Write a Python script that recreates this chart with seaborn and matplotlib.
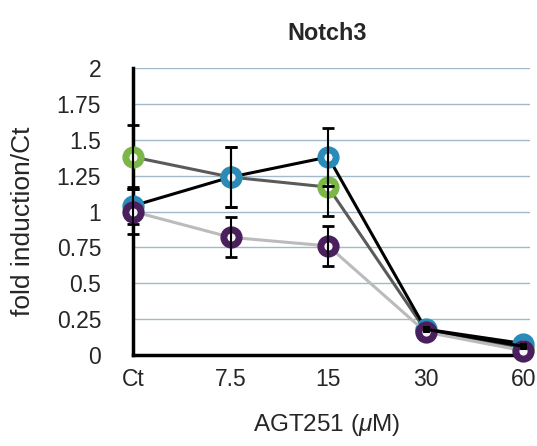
import matplotlib
matplotlib.use("Agg")
import matplotlib.pyplot as plt
import seaborn as sns
import numpy as np
import pandas as pd

categories = ["Ct", "7.5", "15", "30", "60"]
green_vals = [1.38, 1.24, 1.17, 0.17, 0.05]
green_err = [0.22, 0.21, 0.20, 0.0, 0.0]
blue_vals = [1.04, 1.24, 1.38, 0.18, 0.08]
blue_err = [0.13, 0.21, 0.20, 0.0, 0.0]
purple_vals = [1.00, 0.82, 0.76, 0.16, 0.03]
purple_err = [0.16, 0.14, 0.14, 0.0, 0.0]
black_vals = [np.nan, np.nan, np.nan, 0.18, 0.06]
yticks = [0, 0.25, 0.5, 0.75, 1, 1.25, 1.5, 1.75, 2]
ytick_labels = ["0", "0.25", "0.5", "0.75", "1", "1.25", "1.5", "1.75", "2"]

sns.set_style("white")
plt.rcParams['font.family'] = ['Liberation Sans', 'DejaVu Sans']
plt.rcParams['mathtext.fontset'] = 'custom'
plt.rcParams['mathtext.it'] = 'Liberation Sans:italic'
plt.rcParams['mathtext.rm'] = 'Liberation Sans'

fig = plt.figure(figsize=(5.37, 4.46), dpi=100)
ax = fig.add_axes([0.248, 0.204, 0.739, 0.6435])

x = np.arange(len(categories))
series = [
    ("green", green_vals, green_err, "#5a5a5a", "#7ab648"),
    ("blue", blue_vals, blue_err, "#000000", "#2a8ab8"),
    ("purple", purple_vals, purple_err, "#bbbbbb", "#4a1f5e"),
]

for yv in yticks[1:]:
    ax.axhline(yv, color="#a3b8c8", lw=1.0, zorder=0)

z = 3
for name, vals, err, lc, mc in series:
    df = pd.DataFrame({"x": x, "y": vals})
    sns.lineplot(data=df, x="x", y="y", ax=ax, color=lc, lw=2.2, zorder=z,
                 marker="o", markersize=11, markerfacecolor="#f4f4f4",
                 markeredgecolor=mc, markeredgewidth=5, clip_on=False)
    e = np.array(err)
    mask = e > 0
    ax.errorbar(x[mask], np.array(vals)[mask], yerr=e[mask], fmt="none",
                ecolor="black", elinewidth=1.5, capsize=4, capthick=2,
                zorder=z + 0.5, clip_on=False)
    z += 1

dfb = pd.DataFrame({"x": x, "y": black_vals})
sns.lineplot(data=dfb, x="x", y="y", ax=ax, color="black", lw=2.2, zorder=z,
             marker="s", markersize=4, markerfacecolor="black",
             markeredgecolor="black", clip_on=False)

ax.set_xlim(0, 4.07)
ax.set_ylim(0, 2)
ax.set_xticks(x)
ax.set_xticklabels(categories, fontsize=16.5)
ax.set_yticks(yticks)
ax.set_yticklabels(ytick_labels, fontsize=16.5)
ax.tick_params(axis="both", direction="in", length=6, width=2)
ax.tick_params(axis="y", pad=23)
ax.tick_params(axis="x", pad=9)
for s in ["top", "right"]:
    ax.spines[s].set_visible(False)
for s in ["left", "bottom"]:
    ax.spines[s].set_linewidth(2.5)
    ax.spines[s].set_color("black")
ax.set_xlabel(r"AGT251 ($\mu$M)", fontsize=17.5)
ax.set_ylabel("fold induction/Ct", fontsize=19)
ax.xaxis.set_label_coords((326 - 133) / 397, -(425 - 355) / 287)
ax.yaxis.set_label_coords(-(133 - 23) / 397, (355 - 221) / 287)
ax.xaxis.label.set_va("center")
ax.yaxis.label.set_va("center")
fig.text(327 / 537, 1 - 33 / 446, "Notch3", fontsize=16.8, fontweight="bold", ha="center", va="center")

fig.savefig("out.png", dpi=100)
